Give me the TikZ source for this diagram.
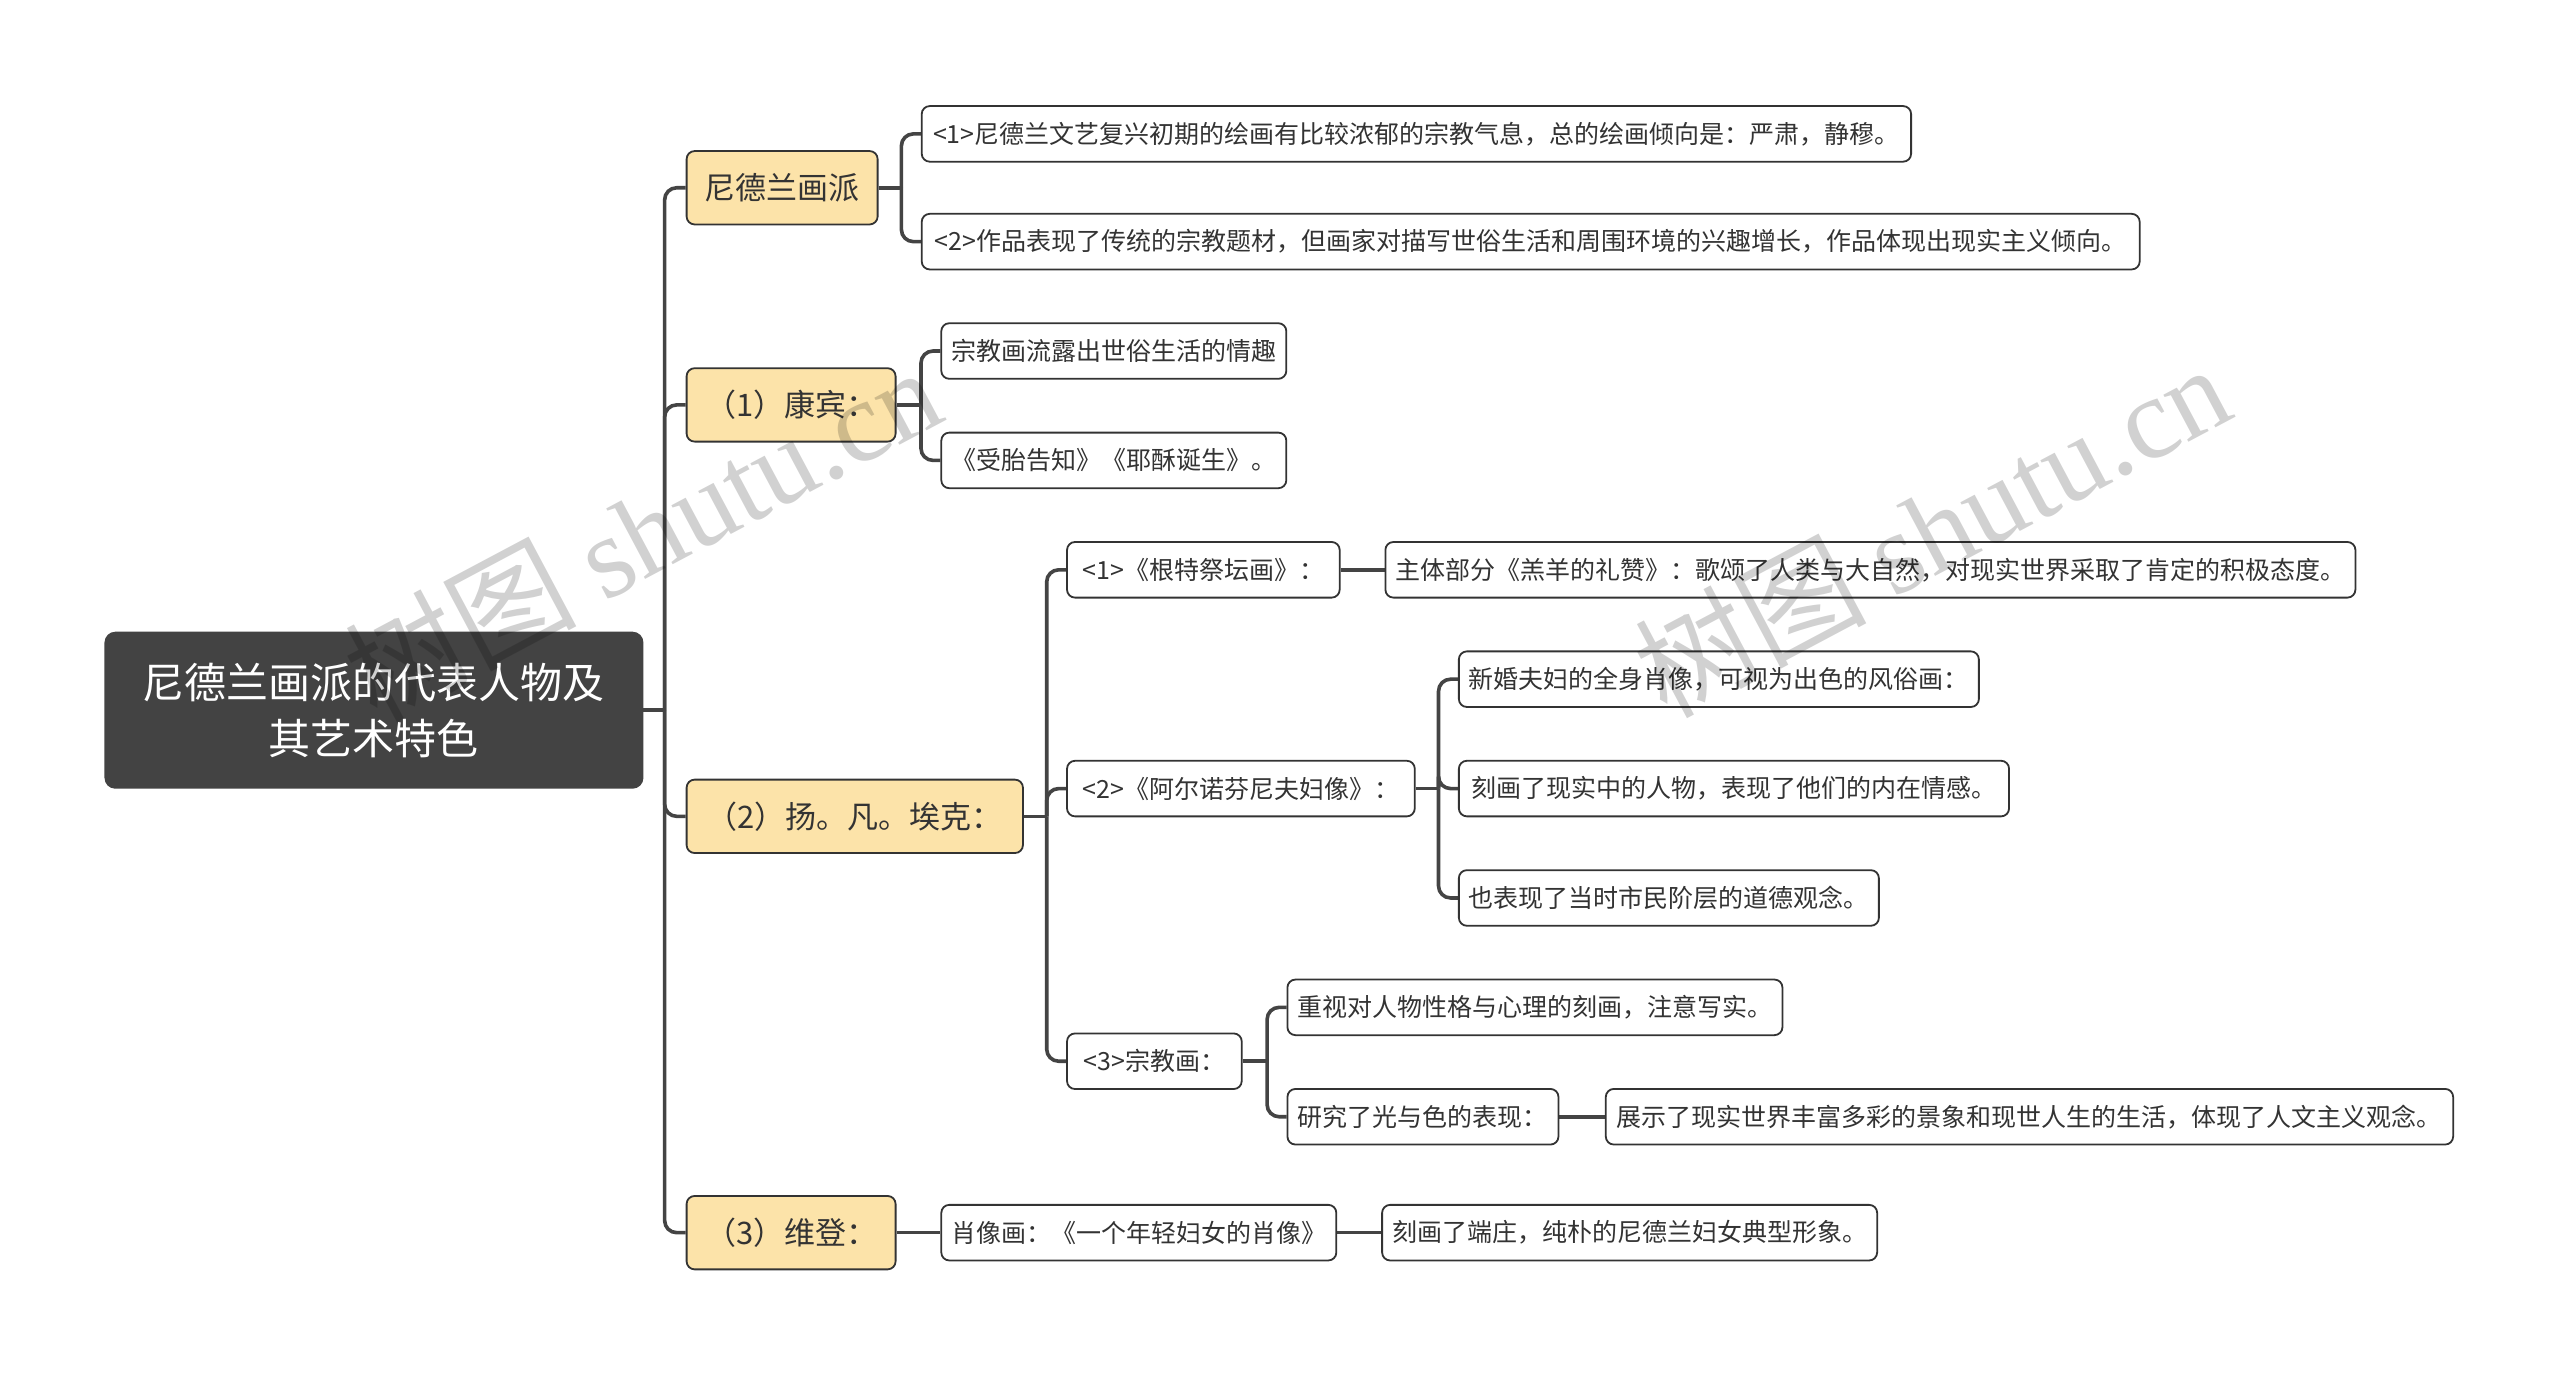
\documentclass[tikz,border=0pt]{standalone}
\usepackage{fontspec}
\setmainfont{Noto Sans CJK SC}
\newfontfamily\wmserif{Liberation Serif}
\usetikzlibrary{backgrounds}
\definecolor{ink}{HTML}{333333}
\definecolor{linec}{HTML}{444444}
\definecolor{rootfill}{HTML}{434343}
\definecolor{lvfill}{HTML}{FCE3A9}
\begin{document}
\begin{tikzpicture}[x=0.8163pt,y=-0.8163pt,
  box/.style={draw=ink, line width=0.9pt, rounded corners=4pt, inner xsep=5pt, inner ysep=0pt,
    font=\fontsize{12.5}{15}\selectfont, text=ink, fill=white, anchor=west,
    minimum height=27.8pt, align=center},
  lv/.style={box, fill=lvfill, font=\fontsize{15.5}{18}\selectfont, minimum height=36.7pt},
  rootbox/.style={box, fill=rootfill, draw=rootfill, text=white, font=\fontsize{21}{28}\selectfont,
    minimum height=77.6pt, rounded corners=5pt},
  wd/.style={minimum width=#1*0.8163pt},
  conn/.style={draw=linec, line width=1.8pt, rounded corners=6pt},
  wm/.style={rotate=28, text=black, text opacity=0.18, font=\fontsize{58}{64}\selectfont, inner sep=0pt},
]
\useasboundingbox (0,0) rectangle (1568,843);

% root
\node[rootbox, wd=329] (root) at (64,435) {尼德兰画派的代表人物及\\其艺术特色};

% level 1
\node[lv, wd=117] (n1) at (420,115) {尼德兰画派};
\node[lv, wd=128] (n2) at (420,248) {（1）康宾：};
\node[lv, wd=206] (n3) at (420,500) {（2）扬。凡。埃克：};
\node[lv, wd=128] (n4) at (420,755) {（3）维登：};

% level 2 and deeper
\node[box, wd=606] (a1) at (564,82) {<1>尼德兰文艺复兴初期的绘画有比较浓郁的宗教气息，总的绘画倾向是：严肃，静穆。};
\node[box, wd=746] (a2) at (564,148) {<2>作品表现了传统的宗教题材，但画家对描写世俗生活和周围环境的兴趣增长，作品体现出现实主义倾向。};

\node[box, wd=211] (b1) at (576,215) {宗教画流露出世俗生活的情趣};
\node[box, wd=211] (b2) at (576,282) {《受胎告知》《耶酥诞生》。};

\node[box, wd=167] (c1) at (653,349) {<1>《根特祭坛画》：};
\node[box, wd=594] (c1a) at (848,349) {主体部分《羔羊的礼赞》：歌颂了人类与大自然，对现实世界采取了肯定的积极态度。};
\node[box, wd=213] (c2) at (653,483) {<2>《阿尔诺芬尼夫妇像》：};
\node[box, wd=317] (c2a) at (893,416) {新婚夫妇的全身肖像，可视为出色的风俗画：};
\node[box, wd=337] (c2b) at (893,483) {刻画了现实中的人物，表现了他们的内在情感。};
\node[box, wd=257] (c2c) at (893,550) {也表现了当时市民阶层的道德观念。};
\node[box, wd=107] (c3) at (653,650) {<3>宗教画：};
\node[box, wd=301] (c3a) at (788,617) {重视对人物性格与心理的刻画，注意写实。};
\node[box, wd=166] (c3b) at (788,684) {研究了光与色的表现：};
\node[box, wd=519] (c3b1) at (983,684) {展示了现实世界丰富多彩的景象和现世人生的生活，体现了人文主义观念。};

\node[box, wd=241] (d1) at (576,755) {肖像画：《一个年轻妇女的肖像》};
\node[box, wd=301] (d1a) at (846,755) {刻画了端庄，纯朴的尼德兰妇女典型形象。};

% connectors
\begin{scope}[on background layer]
  \fill[white] (0,0) rectangle (1568,843);
  \path (root.east) ++(13,0) coordinate (j0);
  \draw[conn] (root.east) -- (j0);
  \foreach \c in {n1,n2,n3,n4} \draw[conn] (j0) |- (\c.west);

  \path (n1.east) ++(14,0) coordinate (j1);
  \draw[conn] (n1.east) -- (j1);
  \foreach \c in {a1,a2} \draw[conn] (j1) |- (\c.west);

  \path (n2.east) ++(15,0) coordinate (j2);
  \draw[conn] (n2.east) -- (j2);
  \foreach \c in {b1,b2} \draw[conn] (j2) |- (\c.west);

  \path (n3.east) ++(14,0) coordinate (j3);
  \draw[conn] (n3.east) -- (j3);
  \foreach \c in {c1,c2,c3} \draw[conn] (j3) |- (\c.west);

  \draw[conn] (c1.east) -- (c1a.west);

  \path (c2.east) ++(14,0) coordinate (j4);
  \draw[conn] (c2.east) -- (j4);
  \foreach \c in {c2a,c2b,c2c} \draw[conn] (j4) |- (\c.west);

  \path (c3.east) ++(15,0) coordinate (j5);
  \draw[conn] (c3.east) -- (j5);
  \foreach \c in {c3a,c3b} \draw[conn] (j5) |- (\c.west);

  \draw[conn] (c3b.east) -- (c3b1.west);
  \draw[conn] (n4.east) -- (d1.west);
  \draw[conn] (d1.east) -- (d1a.west);
\end{scope}

% watermarks
\node[wm] (wm1) at (393,326) {树图 {\wmserif shutu.cn}};
\node[wm] (wm2) at (1183,324) {树图 {\wmserif shutu.cn}};
\end{tikzpicture}
\end{document}
